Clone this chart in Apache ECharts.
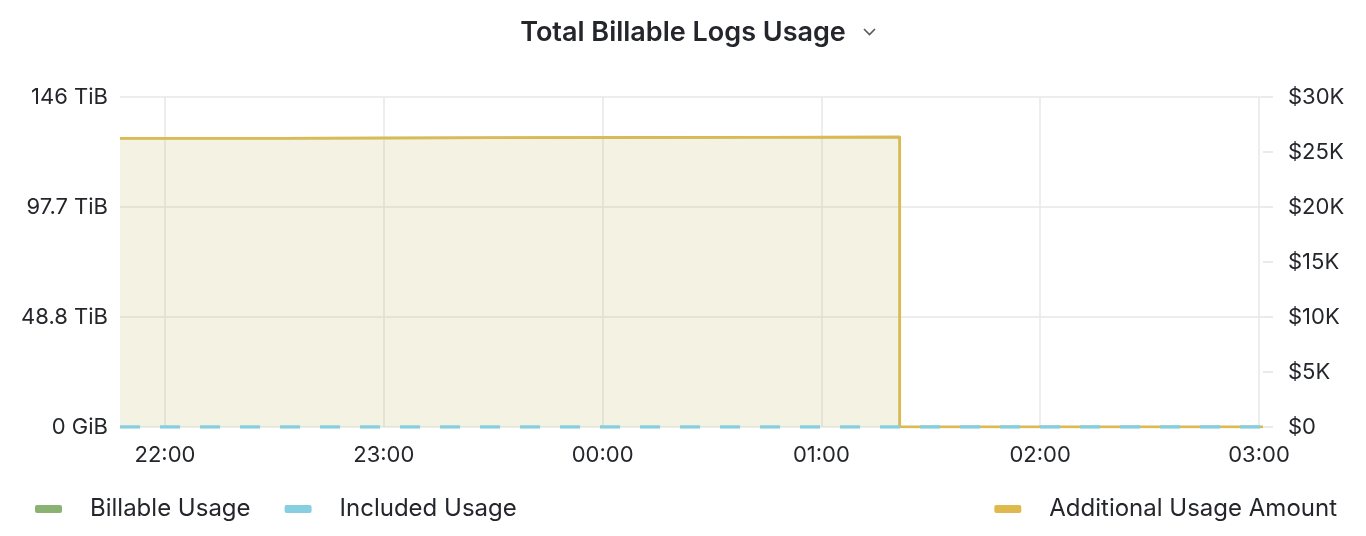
<!DOCTYPE html>
<html>
<head>
<meta charset="utf-8">
<script src="https://cdn.jsdelivr.net/npm/echarts@6/dist/echarts.min.js"></script>
<style>
html,body{margin:0;padding:0;background:#fff;}
#chart{width:1366px;height:536px;}
</style>
</head>
<body>
<div id="chart"></div>
<script>
// Sample times and values
const times = [
  '2024-01-01 21:47:40',
  '2024-01-01 22:31:00',
  '2024-01-01 23:30:00',
  '2024-01-02 01:21:30',
  '2024-01-02 03:01:06'
];
const billableUsageGiB = [131200, 131500, 131800, 0, 0];
const includedUsageGiB = [0, 0, 0, 0, 0];
const additionalUsageAmount = [26240, 26300, 26360, 0, 0];

const leftTicksGiB = [0, 50000, 100000, 150000];
const rightTicksDollar = [0, 5000, 10000, 15000, 20000, 25000, 30000];

const xMin = times[0];
const xMax = times[times.length - 1];

function pairs(vals) { return times.map((t, i) => [t, vals[i]]); }

const FONT = 'Inter, "Noto Sans", sans-serif';
const TEXT = '#24262b';
const GRID = '#e7e7e7';

const chart = echarts.init(document.getElementById('chart'));
chart.setOption({
  animation: false,
  backgroundColor: '#ffffff',
  title: {
    text: 'Total Billable Logs Usage',
    left: 'center',
    top: 14,
    textStyle: { fontFamily: FONT, fontSize: 27, fontWeight: 600, color: TEXT }
  },
  graphic: [{
    type: 'polyline',
    shape: { points: [[864, 29], [869.5, 34.5], [875, 29]] },
    style: { stroke: '#555a60', lineWidth: 1.6, fill: null }
  }],
  grid: { left: 120, right: 103, top: 97, bottom: 109, containLabel: false },
  legend: [{
    left: 30,
    top: 492,
    icon: 'roundRect',
    itemWidth: 27,
    itemHeight: 8,
    itemGap: 34,
    data: ['Billable Usage', 'Included Usage'],
    textStyle: { fontFamily: FONT, fontSize: 24, color: TEXT, padding: [0, 0, 0, 23] },
    itemStyle: { borderWidth: 0 },
    lineStyle: { width: 0 }
  }, {
    right: 24,
    top: 492,
    icon: 'roundRect',
    itemWidth: 27,
    itemHeight: 8,
    data: ['Additional Usage Amount'],
    textStyle: { fontFamily: FONT, fontSize: 24, color: TEXT, padding: [0, 0, 0, 23] },
    itemStyle: { borderWidth: 0 },
    lineStyle: { width: 0 }
  }],
  xAxis: {
    type: 'time',
    min: xMin,
    max: xMax,
    minInterval: 3600 * 1000,
    maxInterval: 3600 * 1000,
    axisLine: { show: false },
    axisTick: { show: false },
    splitLine: { show: true, showMinLine: false, showMaxLine: false, lineStyle: { color: GRID, width: 1.5 } },
    axisLabel: {
      formatter: '{HH}:{mm}',
      fontFamily: FONT, fontSize: 22, color: TEXT, margin: 17,
      showMinLabel: false, showMaxLabel: false
    }
  },
  yAxis: [{
    type: 'value',
    min: leftTicksGiB[0],
    max: leftTicksGiB[leftTicksGiB.length - 1],
    interval: 50000,
    axisLine: { show: false },
    axisTick: { show: false },
    splitLine: { show: true, lineStyle: { color: GRID, width: 1.5 } },
    axisLabel: {
      fontFamily: FONT, fontSize: 22, color: TEXT, margin: 12,
      formatter: v => v === 0 ? '0 GiB' : (v / 1024).toPrecision(3) + ' TiB'
    }
  }, {
    type: 'value',
    position: 'right',
    min: rightTicksDollar[0],
    max: rightTicksDollar[rightTicksDollar.length - 1],
    interval: 5000,
    axisLine: { show: false },
    axisTick: { show: true, length: 10, lineStyle: { color: '#e3e3e3', width: 1.5 } },
    splitLine: { show: false },
    axisLabel: {
      fontFamily: FONT, fontSize: 22, color: TEXT, margin: 25,
      formatter: v => v === 0 ? '$0' : '$' + (v / 1000) + 'K'
    }
  }],
  series: [{
    name: 'Billable Usage',
    type: 'line',
    yAxisIndex: 0,
    step: 'end',
    symbol: 'none',
    color: '#8ab272',
    lineStyle: { width: 2.5, color: '#8ab272' },
    areaStyle: { color: 'rgba(138,178,114,0.09)' },
    z: 2,
    data: pairs(billableUsageGiB)
  }, {
    name: 'Additional Usage Amount',
    type: 'line',
    yAxisIndex: 1,
    step: 'end',
    symbol: 'none',
    color: '#e0b94e',
    lineStyle: { width: 2.5, color: '#e0b94e' },
    areaStyle: { color: 'rgba(224,185,78,0.16)' },
    z: 3,
    data: pairs(additionalUsageAmount)
  }, {
    name: 'Included Usage',
    type: 'line',
    yAxisIndex: 0,
    symbol: 'none',
    color: '#86cfe0',
    lineStyle: { width: 3.5, color: '#86cfe0', type: [20, 20] },
    z: 4,
    data: pairs(includedUsageGiB)
  }]
});
</script>
</body>
</html>
